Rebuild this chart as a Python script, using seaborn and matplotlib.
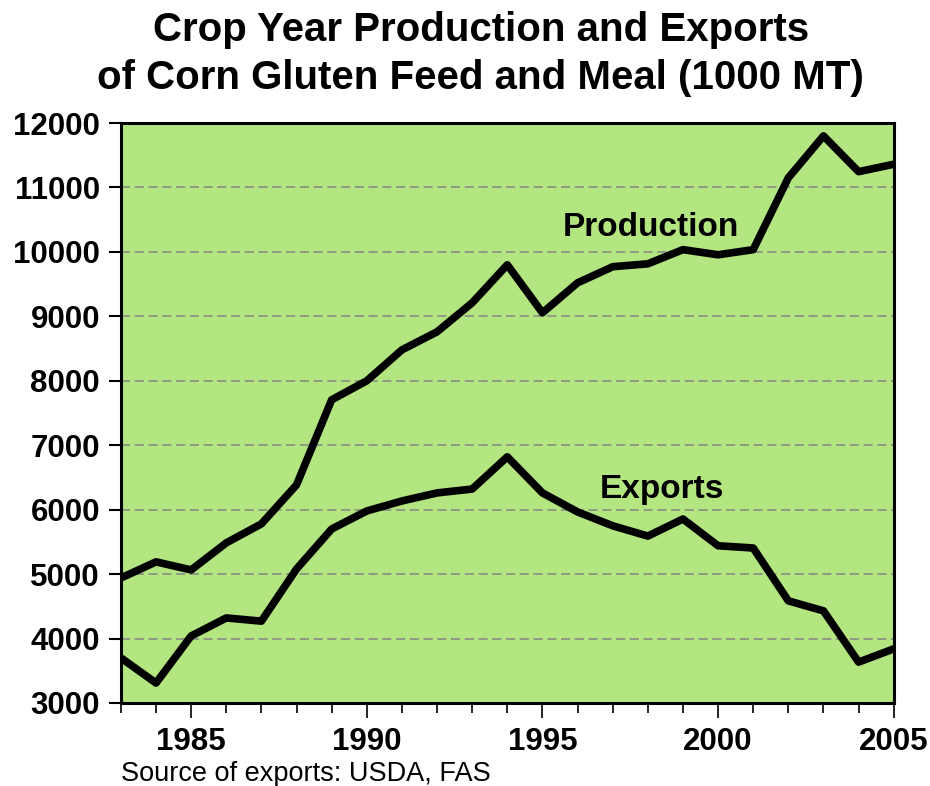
import matplotlib
matplotlib.use("Agg")
import matplotlib.pyplot as plt
import seaborn as sns
import pandas as pd

years = list(range(1983, 2006))
production = [4940, 5190, 5065, 5485, 5780, 6385, 7705, 8000, 8480, 8760, 9210, 9800,
              9055, 9520, 9770, 9815, 10035, 9955, 10035, 11150, 11800, 11245, 11360]
exports = [3700, 3310, 4040, 4320, 4270, 5080, 5700, 5980, 6135, 6260, 6320, 6820,
           6260, 5965, 5750, 5590, 5855, 5440, 5405, 4585, 4430, 3635, 3840]
yticks = [3000, 4000, 5000, 6000, 7000, 8000, 9000, 10000, 11000, 12000]
xticklabels = [1985, 1990, 1995, 2000, 2005]

df = pd.DataFrame({"year": years * 2,
                   "value": production + exports,
                   "series": ["Production"] * len(years) + ["Exports"] * len(years)})

sns.set_style("white")
plt.rcParams['font.family'] = ['Liberation Sans', 'DejaVu Sans']
plt.rcParams['text.color'] = 'black'
plt.rcParams['xtick.color'] = 'black'
plt.rcParams['ytick.color'] = 'black'

fig = plt.figure(figsize=(9.3, 7.86), dpi=100)
ax = fig.add_axes([0.130, 0.1056, 0.831, 0.7379])
ax.set_facecolor("#b3e580")

for y in yticks:
    ax.axhline(y, color="#858585", lw=1.1, ls=(0, (6, 3)), zorder=1)

sns.lineplot(data=df, x="year", y="value", units="series", estimator=None,
             color="black", lw=5.5, ax=ax, legend=False, zorder=3)

ax.set_xlim(1983, 2005)
ax.set_ylim(3000, 12000)
ax.set_yticks(yticks)
ax.set_yticklabels([str(v) for v in yticks], fontsize=22.5, fontweight="bold")
ax.set_xticks(years, minor=True)
ax.set_xticks(xticklabels)
ax.set_xticklabels([str(v) for v in xticklabels], fontsize=22.5, fontweight="bold")
ax.tick_params(axis="y", which="major", direction="out", length=9, width=1.5, left=True, pad=6)
ax.tick_params(axis="x", which="major", direction="out", length=11, width=1.2, bottom=True, pad=6)
ax.tick_params(axis="x", which="minor", direction="out", length=7, width=1.2, bottom=True)
ax.set_xlabel("")
ax.set_ylabel("")
for s in ax.spines.values():
    s.set_visible(True)
    s.set_color("black")
    s.set_linewidth(2.2)

ax.text(1998.1, 10376, "Production", fontsize=24, fontweight="bold", ha="center", va="center")
ax.text(1998.4, 6307, "Exports", fontsize=24, fontweight="bold", ha="center", va="center")

fig.text(0.517, 0.962, "Crop Year Production and Exports", fontsize=29, fontweight="bold",
         ha="center", va="center")
fig.text(0.517, 0.901, "of Corn Gluten Feed and Meal (1000 MT)", fontsize=29, fontweight="bold",
         ha="center", va="center")
fig.text(0.130, 0.006, "Source of exports: USDA, FAS", fontsize=19.5, ha="left", va="baseline")

fig.savefig("out.png", dpi=100)
